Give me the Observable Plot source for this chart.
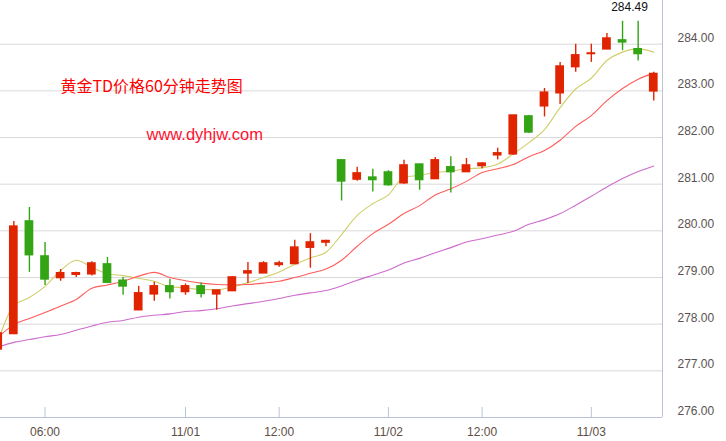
<!DOCTYPE html>
<html>
<head>
<meta charset="utf-8">
<script src="https://cdn.jsdelivr.net/npm/d3@7"></script>
<script src="https://cdn.jsdelivr.net/npm/@observablehq/plot@0.6"></script>
<style>
  html, body { margin: 0; padding: 0; background: #fff; }
  #chart svg { display: block; }
</style>
</head>
<body>
<div id="chart"></div>
<script>
// ---- data (60-minute candles, index 0..42) ----
const open  = [277.46,277.79,280.20,279.45,278.99,279.06,279.07,279.28,278.93,278.30,278.64,278.81,278.69,278.81,278.64,278.71,279.09,279.09,279.27,279.29,279.64,279.75,281.51,281.10,281.14,281.25,281.02,281.42,281.11,281.36,281.26,281.39,281.62,281.64,282.45,282.67,282.95,283.51,283.79,283.89,284.08,283.89,282.99];
const close = [277.80,280.09,279.48,278.96,279.09,279.09,279.30,278.89,278.81,278.66,278.81,278.69,278.81,278.65,278.72,279.00,279.13,279.30,279.30,279.64,279.75,279.78,281.06,281.23,281.09,280.98,281.40,281.09,281.51,281.26,281.40,281.44,281.66,282.47,282.11,282.96,283.52,283.76,283.80,284.12,284.04,283.79,283.36];
const high  = [277.85,280.20,280.50,279.75,279.17,279.11,279.34,279.43,279.00,278.81,278.90,278.96,278.86,278.88,278.72,279.02,279.32,279.34,279.35,279.80,279.94,279.80,281.51,281.36,281.32,281.29,281.51,281.42,281.57,281.59,281.55,281.46,281.77,282.47,282.47,283.05,283.61,284.00,284.00,284.23,284.49,284.49,283.40];
const low   = [277.40,277.79,279.11,278.83,278.92,279.00,279.03,278.87,278.62,278.30,278.49,278.54,278.62,278.56,278.30,278.71,278.87,279.09,279.22,279.29,279.20,279.66,280.64,281.06,280.83,280.96,281.00,280.87,281.11,280.81,281.26,281.33,281.52,281.62,282.09,282.44,282.71,283.40,283.61,283.89,283.86,283.64,282.78];
const ma5   = [277.65,278.40,278.57,278.81,279.15,279.37,279.22,279.08,279.04,278.98,278.92,278.80,278.78,278.74,278.74,278.80,278.89,279.00,279.12,279.28,279.42,279.54,279.92,280.33,280.58,280.77,281.15,281.19,281.25,281.28,281.33,281.35,281.43,281.65,281.89,282.17,282.64,283.04,283.27,283.65,283.83,283.90,283.83];
const ma10  = [277.72,277.99,278.12,278.25,278.39,278.53,278.77,278.84,278.92,279.03,279.11,279.00,278.93,278.88,278.85,278.84,278.85,278.88,278.92,279.00,279.09,279.18,279.37,279.67,279.94,280.14,280.37,280.54,280.77,280.90,281.06,281.25,281.33,281.42,281.59,281.72,281.94,282.24,282.47,282.79,283.05,283.25,283.38];
const ma30  = [277.51,277.61,277.67,277.73,277.78,277.87,277.96,278.04,278.08,278.15,278.19,278.22,278.27,278.29,278.33,278.39,278.44,278.49,278.55,278.62,278.67,278.72,278.82,278.94,279.05,279.16,279.31,279.41,279.53,279.64,279.76,279.83,279.91,279.99,280.14,280.24,280.37,280.55,280.74,280.94,281.12,281.27,281.39];
const xTickIndex  = [3, 12, 18, 25, 31, 38];
const xTickLabels = ["06:00", "11/01", "12:00", "11/02", "12:00", "11/03"];
const yTicks = [276, 277, 278, 279, 280, 281, 282, 283, 284];
const titleText = "黄金TD价格60分钟走势图";
const siteText = "www.dyhjw.com";

// ---- build table ----
const candles = open.map((o, i) => ({i, open: o, close: close[i], high: high[i], low: low[i]}));
const ma = [
  ...ma5.map((v, i) => ({i, v, s: "ma5"})),
  ...ma10.map((v, i) => ({i, v, s: "ma10"})),
  ...ma30.map((v, i) => ({i, v, s: "ma30"}))
];
const UP = "#e02400", DOWN = "#33a514";
const col = d => d.close >= d.open ? UP : DOWN;
const xDomain = [0.147, 42.56];
const tickLabelOf = new Map(xTickIndex.map((t, k) => [t, xTickLabels[k]]));
const maxC = candles.reduce((a, b) => b.high > a.high ? b : a);
const axisColor = "#b9c5d6";
const font = "'Liberation Sans', Arial, sans-serif";

const chart = Plot.plot({
  width: 726,
  height: 441,
  marginLeft: 0,
  marginRight: 64,
  marginTop: 0,
  marginBottom: 24,
  style: {fontFamily: font, fontSize: "12px", background: "#fff", overflow: "visible"},
  x: {type: "linear", domain: xDomain, axis: null, label: null},
  y: {domain: [276, 284.936], axis: null, label: null},
  marks: [
    // horizontal grid
    Plot.ruleY(yTicks.filter(t => t > 276), {stroke: "#d9d9d9", strokeWidth: 1}),
    // moving averages
    Plot.line(ma, {x: "i", y: "v", z: "s",
      stroke: d => d.s === "ma5" ? "#cfcf6a" : d.s === "ma10" ? "#ff5c5c" : "#cc6ccc",
      strokeWidth: 1.1, curve: "monotone-x", clip: true}),
    // wicks
    Plot.ruleX(candles, {x: "i", y1: "low", y2: "high", stroke: col, strokeWidth: 1.4, clip: true}),
    // bodies
    Plot.rect(candles, {x1: d => d.i - 0.28, x2: d => d.i + 0.28,
      y1: d => Math.min(d.open, d.close), y2: d => Math.max(d.open, d.close),
      fill: col, insetTop: -0.8, insetBottom: -0.8, clip: true}),
    // max label
    Plot.text([maxC], {x: "i", y: "high", text: d => d.high.toFixed(2), dx: 7, dy: -14,
      fill: "#111", fontSize: 12}),
    // axes lines
    Plot.ruleY([276], {stroke: axisColor}),
    Plot.ruleX([xDomain[1]], {stroke: axisColor}),
    Plot.ruleX(xTickIndex, {x: d => d, stroke: axisColor, insetTop: 407}),
    Plot.axisX(xTickIndex, {tickSize: 0, tickPadding: 10, tickFormat: d => tickLabelOf.get(d),
      fill: "#5e4e46", fontSize: 12, label: null}),
    Plot.axisY(yTicks, {anchor: "right", tickSize: 0, tickPadding: 15, dy: -6.5,
      tickFormat: d => d.toFixed(2), fill: "#5a5252", fontSize: 12, label: null}),
    // title overlays
    Plot.text([titleText], {frameAnchor: "top-left", dx: 60, dy: 80, textAnchor: "start",
      fill: "#ff0000", fontSize: 16, fontFamily: "'Noto Sans CJK SC', sans-serif"}),
    Plot.text([siteText], {frameAnchor: "top-left", dx: 146, dy: 128, textAnchor: "start",
      fill: "#ff1030", fontSize: 16.5, fontFamily: font})
  ]
});
document.getElementById("chart").appendChild(chart);
</script>
</body>
</html>
